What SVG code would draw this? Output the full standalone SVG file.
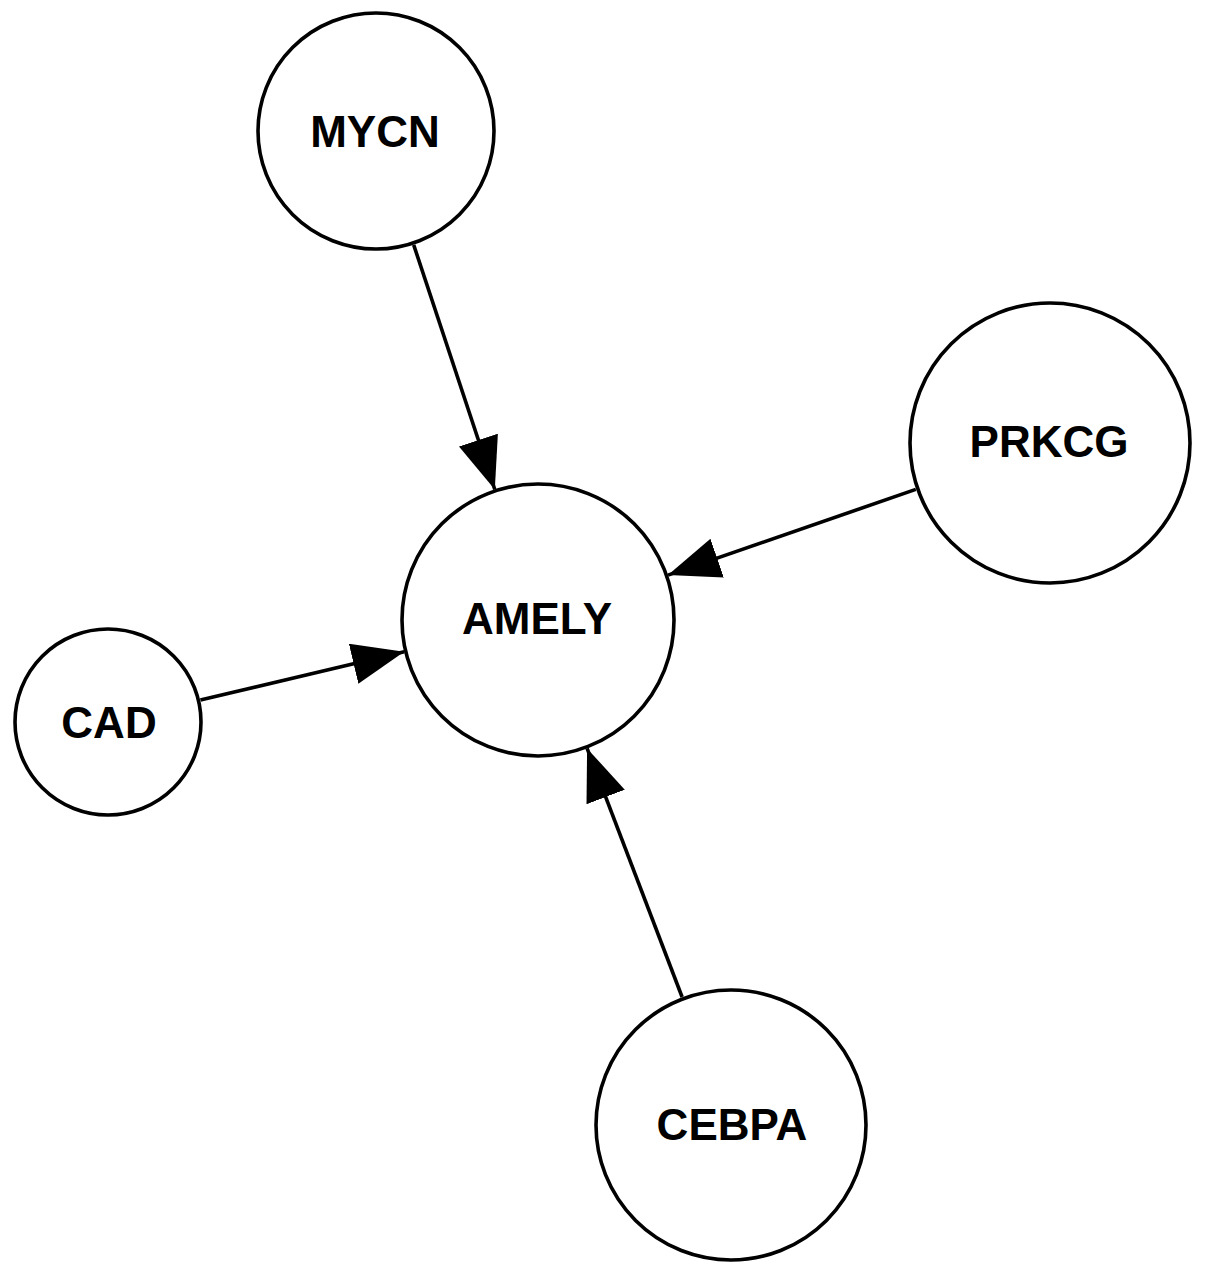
<svg xmlns="http://www.w3.org/2000/svg" width="1205" height="1278" viewBox="0 0 1205 1278">
<style>
.node circle { fill: #ffffff; stroke: #000000; stroke-width: 3.6; }
.node text { font-family: "Liberation Sans", Arial, sans-serif; font-weight: bold; font-size: 44px; text-anchor: middle; fill: #000000; }
.edge { stroke: #000000; stroke-width: 3.6; fill: none; marker-end: url(#arrow); }
</style>
<defs>
<marker id="arrow" markerUnits="userSpaceOnUse" markerWidth="54" markerHeight="42" refX="52" refY="20.5" orient="auto">
<path d="M0,0 L52,20.5 L0,41 Z" fill="#000000"/>
</marker>
</defs>
<rect width="1205" height="1278" fill="#ffffff"/>
<g id="connectors">
<line class="edge" x1="413.7" y1="244.9" x2="494.8" y2="489.5"/>
<line class="edge" x1="915.8" y1="489.4" x2="668.0" y2="575.1"/>
<line class="edge" x1="200.4" y1="700.1" x2="404.2" y2="651.7"/>
<line class="edge" x1="682.1" y1="997.0" x2="587.1" y2="748.4"/>
</g>
<g id="node-MYCN" class="node">
<circle cx="376" cy="131" r="118"/>
<text x="375" y="147">MYCN</text>
</g>
<g id="node-PRKCG" class="node">
<circle cx="1050" cy="443" r="140"/>
<text x="1049" y="457">PRKCG</text>
</g>
<g id="node-AMELY" class="node">
<circle cx="538" cy="620" r="136"/>
<text x="537" y="634">AMELY</text>
</g>
<g id="node-CAD" class="node">
<circle cx="108" cy="722" r="93"/>
<text x="109" y="738">CAD</text>
</g>
<g id="node-CEBPA" class="node">
<circle cx="731" cy="1125" r="135"/>
<text x="732" y="1140">CEBPA</text>
</g>
</svg>
